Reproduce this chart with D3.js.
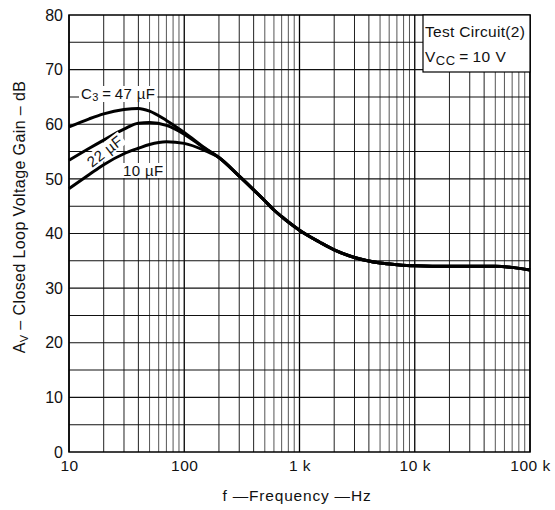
<!DOCTYPE html>
<html><head><meta charset="utf-8">
<script src="https://cdn.jsdelivr.net/npm/d3@7/dist/d3.min.js"></script>
<style>
html,body{margin:0;padding:0;background:#fff;}
svg text{font-family:"Liberation Sans",Arial,sans-serif;fill:#111;}
</style></head>
<body>
<svg id="c" width="555" height="510"></svg>
<script>
// ---- data ----
const freqHead = [10, 15, 20, 30, 40, 50, 70, 100, 150];
const gain47 = [59.5, 61.0, 61.9, 62.7, 62.9, 62.4, 60.7, 58.5, 55.7];
const gain22 = [53.4, 55.6, 57.1, 59.1, 60.2, 60.3, 59.8, 58.2, 55.6];
const gain10 = [48.2, 50.8, 52.6, 54.6, 55.6, 56.3, 56.8, 56.5, 55.2];
const freqTail = [200, 300, 400, 500, 600, 700, 800, 1000, 1500, 2000, 3000, 5000, 7000, 10000, 20000, 50000, 70000, 100000];
const gainTail = [53.9, 50.5, 48.0, 46.0, 44.3, 43.1, 42.1, 40.6, 38.4, 37.0, 35.6, 34.6, 34.3, 34.1, 34.0, 34.0, 33.8, 33.3];
const xTickValues = [10, 100, 1000, 10000, 100000];
const xTickLabels = ["10", "100", "1 k", "10 k", "100 k"];
const yTickValues = [0, 10, 20, 30, 40, 50, 60, 70, 80];

const svg = d3.select("#c");
const L = 69, R = 530, T = 15, B = 452;
const x = d3.scaleLog().domain([10, 100000]).range([L, R]);
const y = d3.scaleLinear().domain([0, 80]).range([B, T]);

// grid
const g = svg.append("g");
const minorX = [];
for (let d = 10; d < 100000; d *= 10) for (let k = 2; k <= 9; k++) minorX.push(d * k);
g.selectAll("line.vx").data(minorX).enter().append("line")
  .attr("x1", d => x(d)).attr("x2", d => x(d)).attr("y1", T).attr("y2", B)
  .attr("stroke", (d, i) => (i % 8) >= 3 ? "#555" : "#222").attr("stroke-width", 1);
g.selectAll("line.vm").data(xTickValues).enter().append("line")
  .attr("x1", d => x(d)).attr("x2", d => x(d)).attr("y1", T).attr("y2", B)
  .attr("stroke", "#000").attr("stroke-width", 1.3);
g.selectAll("line.h").data(d3.range(5, 80, 5)).enter().append("line")
  .attr("x1", L).attr("x2", R).attr("y1", d => y(d)).attr("y2", d => y(d))
  .attr("stroke", "#111").attr("stroke-width", 1.1);
svg.append("rect").attr("x", L).attr("y", T).attr("width", R - L).attr("height", B - T)
  .attr("fill", "none").attr("stroke", "#000").attr("stroke-width", 1.5);

// axes
const xAxis = d3.axisBottom(x).tickValues(xTickValues).tickFormat((d, i) => xTickLabels[i]).tickSize(0).tickPadding(8);
const xa = svg.append("g").attr("transform", `translate(0,${B})`).call(xAxis);
xa.select(".domain").remove();
xa.selectAll("text").style("font-size", "15.5px").style("letter-spacing", "0.5px").attr("fill", "#111");
const yAxis = d3.axisLeft(y).tickValues(yTickValues).tickSize(0).tickPadding(6);
const ya = svg.append("g").attr("transform", `translate(${L},0)`).call(yAxis);
ya.select(".domain").remove();
ya.selectAll("text").style("font-size", "16px").attr("fill", "#111");

// legend box
svg.append("rect").attr("x", 423).attr("y", T).attr("width", R - 423).attr("height", 57)
  .attr("fill", "#fff").attr("stroke", "#000").attr("stroke-width", 1.2);
svg.append("text").attr("x", 425).attr("y", 37).style("font-size", "15.5px").style("letter-spacing", "0.3px")
  .text("Test  Circuit(2)");
const vt = svg.append("text").attr("x", 425).attr("y", 62).style("font-size", "15.5px").style("letter-spacing", "0.5px");
vt.append("tspan").text("V");
vt.append("tspan").attr("dy", 3).style("font-size", "13px").text("CC");
vt.append("tspan").attr("dy", -3).text("\u2009=\u200910  V");

// curves
const line = d3.line().x(d => x(d[0])).y(d => y(d[1])).curve(d3.curveMonotoneX);
const series = [gain47, gain22, gain10].map(gs =>
  freqHead.map((f, i) => [f, gs[i]]).concat(freqTail.map((f, i) => [f, gainTail[i]])));
svg.selectAll("path.c").data(series).enter().append("path")
  .attr("d", line).attr("fill", "none").attr("stroke", "#000").attr("stroke-width", 3)
  .attr("stroke-linejoin", "round");

// curve labels
function bgText(tx, ty, rot, build) {
  const grp = svg.append("g").attr("transform", `translate(${tx},${ty}) rotate(${rot})`);
  const t = grp.append("text").style("font-size", "15px").style("letter-spacing", "0.4px");
  build(t);
  const bb = t.node().getBBox();
  grp.insert("rect", "text").attr("x", bb.x - 2).attr("y", bb.y + 1).attr("width", bb.width + 4).attr("height", bb.height - 2).attr("fill", "#fff");
}
bgText(81, 99, 0, t => {
  t.append("tspan").text("C");
  t.append("tspan").attr("dy", 2).style("font-size", "11px").text("3");
  t.append("tspan").attr("dy", -2).text("\u2009=\u200947  \u00b5F");
});
bgText(92, 168, -38, t => t.text("22 \u00b5F"));
bgText(123, 176, 0, t => t.text("10  \u00b5F"));

// axis titles
const yt = svg.append("text").attr("transform", "translate(25,217) rotate(-90)")
  .attr("text-anchor", "middle").style("font-size", "16px").style("letter-spacing", "0.4px");
yt.append("tspan").text("A");
yt.append("tspan").attr("dy", 3).style("font-size", "11px").text("V");
yt.append("tspan").attr("dy", -3).text(" \u2013 Closed  Loop  Voltage  Gain \u2013 dB");
svg.append("text").attr("x", 297).attr("y", 501).attr("text-anchor", "middle")
  .style("font-size", "15.5px").style("letter-spacing", "0.8px").text("f \u2014Frequency \u2014Hz");
</script>
</body></html>
